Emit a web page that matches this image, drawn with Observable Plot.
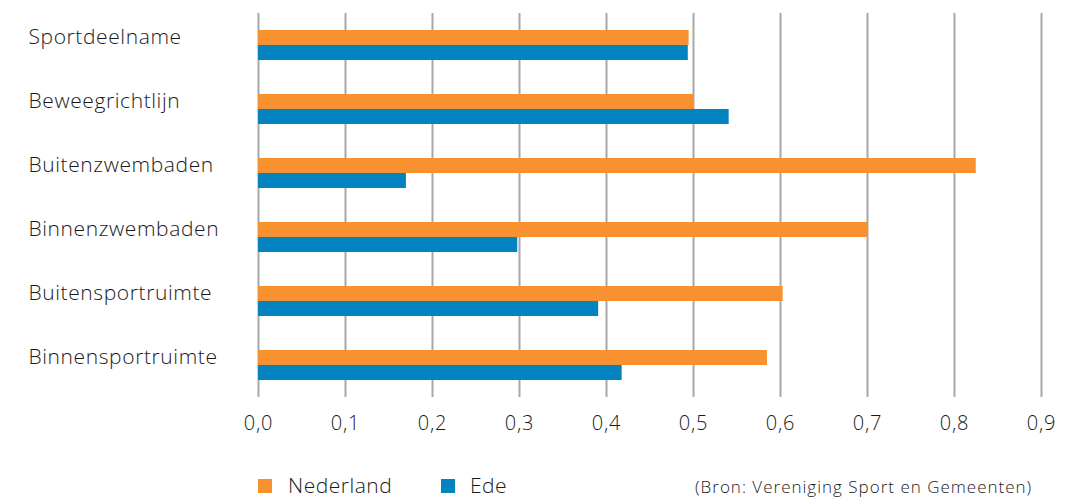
<!DOCTYPE html>
<html>
<head>
<meta charset="utf-8">
<script src="https://cdn.jsdelivr.net/npm/d3@7"></script>
<script src="https://cdn.jsdelivr.net/npm/@observablehq/plot@0.6"></script>
<style>
  body { margin: 0; background: #fff; font-family: "Open Sans", sans-serif; font-weight: 300; color: #1a1a1a; }
  #chart { position: absolute; left: 0; top: 0; }
  #chart g[aria-label="text"] text { letter-spacing: 0.6px; }
  #chart g[aria-label="x-axis tick label"] text { letter-spacing: 0.8px; }
  .legend { position: absolute; top: 473px; left: 0; width: 1067px; height: 24px; font-size: 21px; letter-spacing: 0.5px; }
  .legend .sw { position: absolute; top: 6px; width: 14px; height: 14px; }
  .legend .lab { position: absolute; top: 0px; line-height: 24px; }
  .legend .src { position: absolute; top: 2px; left: 695px; font-size: 17px; letter-spacing: 1px; line-height: 24px; }
</style>
</head>
<body>
<div id="chart"></div>
<div class="legend">
  <div class="sw" style="left:258px;background:#F8912F"></div><div class="lab" style="left:288px">Nederland</div>
  <div class="sw" style="left:441px;background:#0383BF"></div><div class="lab" style="left:470px">Ede</div>
  <div class="src">(Bron: Vereniging Sport en Gemeenten)</div>
</div>
<script>
const categories = ["Sportdeelname", "Beweegrichtlijn", "Buitenzwembaden", "Binnenzwembaden", "Buitensportruimte", "Binnensportruimte"];
const nederland = [0.495, 0.500, 0.825, 0.701, 0.603, 0.585];
const ede = [0.494, 0.541, 0.170, 0.298, 0.391, 0.418];
const xTicks = [0, 0.1, 0.2, 0.3, 0.4, 0.5, 0.6, 0.7, 0.8, 0.9];

const nlData = categories.map((c, i) => ({category: c, value: nederland[i]}));
const edeData = categories.map((c, i) => ({category: c, value: ede[i]}));
const fmt = d => d.toFixed(1).replace(".", ",");

const chart = Plot.plot({
  width: 1067,
  height: 455,
  marginLeft: 258,
  marginRight: 26,
  marginTop: 13,
  marginBottom: 58,
  style: { fontFamily: "'Open Sans', sans-serif", fontWeight: 300, fontSize: "20px", color: "#1a1a1a", background: "#fff" },
  x: { domain: [0, 0.9], ticks: xTicks, tickFormat: fmt, tickSize: 0, tickPadding: 18, label: null },
  y: { domain: categories, padding: 0, axis: null },
  marks: [
    Plot.ruleX(xTicks, { stroke: "#A8A8A8", strokeWidth: 2, strokeOpacity: 1 }),
    Plot.barX(nlData, { x: "value", y: "category", fill: "#F8912F", insetTop: 17, insetBottom: 32 }),
    Plot.barX(edeData, { x: "value", y: "category", fill: "#0383BF", insetTop: 32, insetBottom: 17 }),
    Plot.text(categories, { y: d => d, text: d => d, frameAnchor: "left", textAnchor: "start", dx: -230, dy: -8, fontSize: 21, fontWeight: 300, fill: "#1a1a1a" }),
    Plot.axisX({ ticks: xTicks, tickFormat: fmt, tickSize: 0, tickPadding: 18, fontSize: 20, fontWeight: 300, label: null })
  ]
});
document.getElementById("chart").appendChild(chart);
</script>
</body>
</html>
